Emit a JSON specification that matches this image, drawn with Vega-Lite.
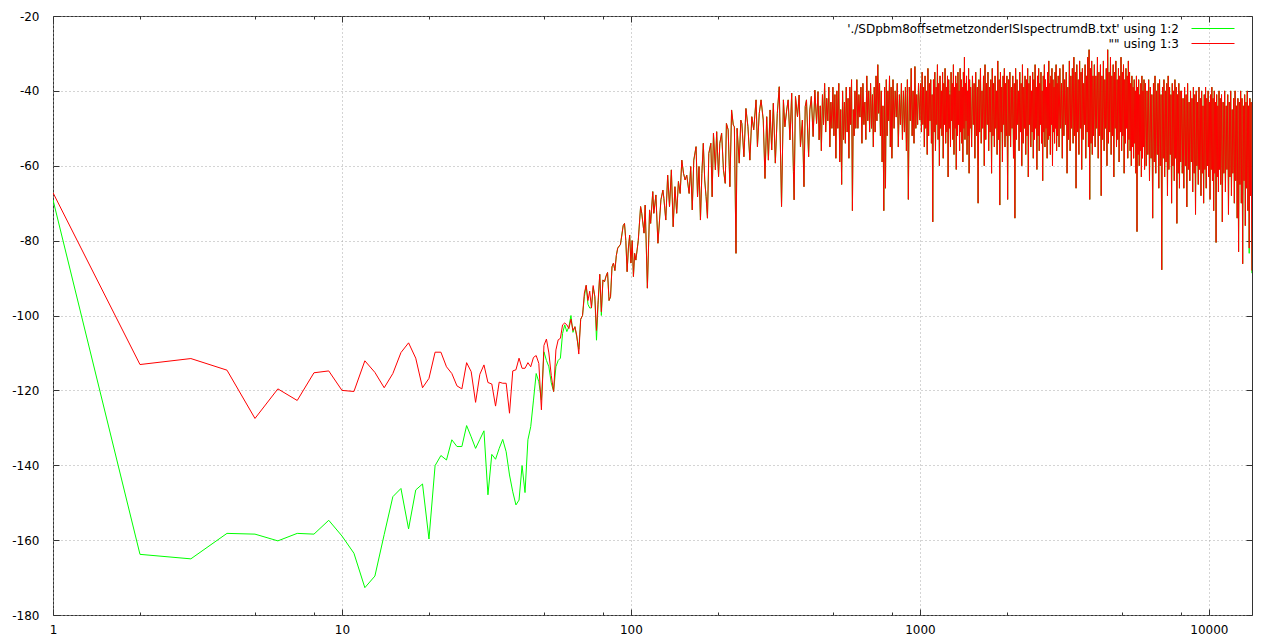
{
"$schema": "https://vega.github.io/schema/vega-lite/v6.json",
"width": 1199, "height": 599,
"autosize": {"type": "none"},
"padding": {"left": 53, "top": 16, "right": 24, "bottom": 26},
"background": "white",
"config": {
  "view": {"stroke": "#333333", "strokeWidth": 1},
  "font": "DejaVu Sans",
  "axis": {"labelFont": "DejaVu Sans", "labelFontSize": 12, "labelColor": "#000000", "tickColor": "#333333", "tickWidth": 1, "domain": false, "title": null, "gridColor": "#a8a8a8", "gridDash": [1, 3], "gridWidth": 1, "labelOverlap": false, "labelFlush": false}
},
"data": {"values": [
{"x":1,"g":-69.1,"r":-67.2},{"x":2,"g":-163.8,"r":-113.1},{"x":3,"g":-165,"r":-111.5},{"x":4,"g":-158.2,"r":-114.6},{"x":5,"g":-158.4,"r":-127.5},
{"x":6,"g":-160.2,"r":-119.6},{"x":7,"g":-158.2,"r":-122.7},{"x":8,"g":-158.4,"r":-115.3},{"x":9,"g":-154.7,"r":-114.8},{"x":10,"g":-158.9,"r":-120},
{"x":11,"g":-163.5,"r":-120.3},{"x":12,"g":-172.7,"r":-112.1},{"x":13,"g":-169.6,"r":-115.2},{"x":14,"g":-158.5,"r":-119.3},{"x":15,"g":-148.4,"r":-115.5},
{"x":16,"g":-146.2,"r":-109.9},{"x":17,"g":-157,"r":-107.3},{"x":18,"g":-146.6,"r":-111.4},{"x":19,"g":-145,"r":-119.3},{"x":20,"g":-159.7,"r":-116.8},
{"x":21,"g":-140.1,"r":-109.8},{"x":22,"g":-137.4,"r":-109.8},{"x":23,"g":-138.6,"r":-113.7},{"x":24,"g":-133.2,"r":-115.5},{"x":25,"g":-135,"r":-118.8},
{"x":26,"g":-135,"r":-119.6},{"x":27,"g":-129.4,"r":-112.6},{"x":28,"g":-132.4,"r":-115},{"x":29,"g":-135.5,"r":-123.2},{"x":30,"g":-133.1,"r":-115.7},
{"x":31,"g":-130.8,"r":-113.2},{"x":32,"g":-147.9,"r":-117.9},{"x":33,"g":-137.1,"r":-118.3},{"x":34,"g":-138.4,"r":-124.2},{"x":35,"g":-135.5,"r":-117.8},
{"x":36,"g":-133.1,"r":-118.1},{"x":37,"g":-136.4,"r":-118.1},{"x":38,"g":-142.6,"r":-126.1},{"x":39,"g":-147.1,"r":-114.8},{"x":40,"g":-150.6,"r":-114.5},
{"x":41,"g":-149.3,"r":-111.4},{"x":42,"g":-140.1,"r":-114.1},{"x":43,"g":-147.3,"r":-114.1},{"x":44,"g":-133.2,"r":-112.6},{"x":45,"g":-129.7,"r":-113.7},
{"x":46,"g":-122.6,"r":-111.2},{"x":47,"g":-115.5,"r":-110.7},{"x":48,"g":-117.7,"r":-112.8},{"x":49,"g":-122.6,"r":-125.2},{"x":50,"g":-109.7,"r":-108},
{"x":51,"g":-112,"r":-106.3},{"x":52,"g":-113.7,"r":-110},{"x":53,"g":-118,"r":-116},{"x":54,"g":-120.3,"r":-120.3},{"x":55,"g":-113.7,"r":-109.2},
{"x":56,"g":-112,"r":-106.5},{"x":57,"g":-111.4,"r":-106.1},{"x":58,"g":-104.8,"r":-102.5},{"x":59,"g":-102.5,"r":-102},{"x":60,"g":-104.3,"r":-102.5},
{"x":61,"g":-103,"r":-103.5},{"x":62,"g":-100,"r":-101},{"x":63,"g":-104.5,"r":-104},{"x":64,"g":-103,"r":-103},{"x":65,"g":-106,"r":-105.5},
{"x":66,"g":-109,"r":-110.3},{"x":67,"g":-101,"r":-101},{"x":68,"g":-100,"r":-100},{"x":69,"g":-95,"r":-94},{"x":70,"g":-92,"r":-91.9},
{"x":71,"g":-97,"r":-96},{"x":72,"g":-98,"r":-93.5},{"x":73,"g":-98,"r":-98},{"x":74,"g":-92.5,"r":-92},{"x":75,"g":-95,"r":-95},
{"x":76,"g":-106.6,"r":-104},{"x":77,"g":-97,"r":-96},{"x":78,"g":-89,"r":-89},{"x":79,"g":-100,"r":-99},{"x":80,"g":-90.5,"r":-90.5},
{"x":81,"g":-91,"r":-91},{"x":82,"g":-89.5,"r":-89.5},{"x":83,"g":-88.5,"r":-88.5},{"x":84,"g":-96,"r":-96},{"x":85,"g":-95,"r":-95},
{"x":86,"g":-87,"r":-87},{"x":87,"g":-86,"r":-86},{"x":88,"g":-88,"r":-88},{"x":89,"g":-84,"r":-84},{"x":90,"g":-82,"r":-82},
{"x":92,"g":-81,"r":-81},{"x":94,"g":-76,"r":-76},{"x":95,"g":-75.4,"r":-75.4},{"x":96,"g":-80,"r":-80},{"x":97,"g":-88.3,"r":-88.3},
{"x":98,"g":-82,"r":-82},{"x":99,"g":-78.5,"r":-78.5},{"x":100,"g":-86,"r":-86},{"x":101,"g":-80,"r":-80},{"x":102,"g":-89.6,"r":-89.6},
{"x":103,"g":-83.4,"r":-83.4},{"x":104,"g":-85.2,"r":-85.2},{"x":106,"g":-80,"r":-80},{"x":108,"g":-70.9,"r":-70.9},{"x":109,"g":-72.7,"r":-72.7},
{"x":111,"g":-78,"r":-78},{"x":112,"g":-70.5,"r":-70.5},{"x":114,"g":-92.7,"r":-92.7},{"x":116,"g":-71.8,"r":-71.8},{"x":117,"g":-75.4,"r":-75.4},
{"x":119,"g":-66.9,"r":-66.9},{"x":120,"g":-72.7,"r":-72.7},{"x":122,"g":-67.8,"r":-67.8},{"x":124,"g":-80.7,"r":-80.7},{"x":127,"g":-69.1,"r":-69.1},
{"x":129,"g":-66.5,"r":-66.5},{"x":130,"g":-68.7,"r":-68.7},{"x":132,"g":-74.5,"r":-74.5},{"x":134,"g":-62.5,"r":-62.5},{"x":136,"g":-70.9,"r":-70.9},
{"x":138,"g":-61.1,"r":-61.1},{"x":140,"g":-76.3,"r":-76.3},{"x":142,"g":-65.6,"r":-65.6},{"x":144,"g":-72.7,"r":-72.7},{"x":146,"g":-64.2,"r":-64.2},
{"x":148,"g":-67.4,"r":-67.4},{"x":150,"g":-58.5,"r":-58.5},{"x":152,"g":-62,"r":-62},{"x":154,"g":-63.8,"r":-63.8},{"x":156,"g":-62.5,"r":-62.5},
{"x":159,"g":-67.4,"r":-67.4},{"x":161,"g":-60.2,"r":-60.2},{"x":163,"g":-71.8,"r":-71.8},{"x":165,"g":-58.5,"r":-58.5},{"x":168,"g":-54.9,"r":-54.9},
{"x":170,"g":-68.3,"r":-68.3},{"x":172,"g":-60.2,"r":-60.2},{"x":174,"g":-74.5,"r":-74.5},{"x":176,"g":-62,"r":-62},{"x":178,"g":-54,"r":-54},
{"x":180,"g":-63.8,"r":-63.8},{"x":182,"g":-68.3,"r":-68.3},{"x":184,"g":-74,"r":-74},{"x":186,"g":-56.7,"r":-56.7},{"x":189,"g":-54,"r":-54},
{"x":191,"g":-68.3,"r":-68.3},{"x":193,"g":-51.3,"r":-51.3},{"x":196,"g":-61.1,"r":-61.1},{"x":198,"g":-50.9,"r":-50.9},{"x":201,"g":-62.9,"r":-62.9},
{"x":203,"g":-54,"r":-54},{"x":206,"g":-51.3,"r":-51.3},{"x":209,"g":-61.1,"r":-61.1},{"x":212,"g":-64.7,"r":-64.7},{"x":214,"g":-48.7,"r":-48.7},
{"x":217,"g":-50.4,"r":-50.4},{"x":220,"g":-65.6,"r":-65.6},{"x":223,"g":-45.1,"r":-45.1},{"x":226,"g":-49.1,"r":-49.1},{"x":228,"g":-49.6,"r":-49.6},
{"x":231,"g":-83.4,"r":-83.4},{"x":233,"g":-50,"r":-50},{"x":237,"g":-59.3,"r":-59.3},{"x":240,"g":-47.8,"r":-47.8},{"x":242,"g":-48.7,"r":-48.7},
{"x":246,"g":-57.6,"r":-57.6},{"x":250,"g":-44.7,"r":-44.7},{"x":254,"g":-49.6,"r":-49.6},{"x":258,"g":-58.5,"r":-58.5},{"x":262,"g":-46.9,"r":-46.9},
{"x":266,"g":-50.4,"r":-50.4},{"x":271,"g":-42.4,"r":-42.4},{"x":274,"g":-54.9,"r":-54.9},{"x":278,"g":-46,"r":-46},{"x":282,"g":-42.4,"r":-42.4},
{"x":287,"g":-47.8,"r":-47.8},{"x":291,"g":-63.4,"r":-63.4},{"x":295,"g":-46.9,"r":-46.9},{"x":299,"g":-58.5,"r":-58.5},{"x":303,"g":-45.1,"r":-45.1},
{"x":307,"g":-55.8,"r":-55.8},{"x":311,"g":-43.3,"r":-43.3},{"x":316,"g":-59.3,"r":-59.3},{"x":321,"g":-46,"r":-46},{"x":326,"g":-38.9,"r":-38.9},
{"x":332,"g":-70.9,"r":-70.9},{"x":337,"g":-42.4,"r":-42.4},{"x":341,"g":-49.6,"r":-49.6},{"x":346,"g":-45.1,"r":-45.1},{"x":350,"g":-42.4,"r":-42.4},
{"x":355,"g":-53.1,"r":-53.1},{"x":360,"g":-40.6,"r":-40.6},{"x":365,"g":-61.6,"r":-61.6},{"x":367,"g":-69.1,"r":-69.1},{"x":371,"g":-41.5,"r":-41.5},
{"x":377,"g":-46.9,"r":-46.9},{"x":382,"g":-41.1,"r":-41.1},{"x":386,"g":-54.9,"r":-54.9},{"x":392,"g":-47.8,"r":-47.8},{"x":397,"g":-65.6,"r":-65.6},
{"x":401,"g":-44.2,"r":-44.2},{"x":405,"g":-42.4,"r":-42.4},{"x":412,"g":-57.6,"r":-57.6},{"x":416,"g":-45.1,"r":-45.1},{"x":421,"g":-41.5,"r":-41.5},
{"x":427,"g":-52.2,"r":-52.2},{"x":433,"g":-39.8,"r":-39.8},{"x":439,"g":-48.7,"r":-48.7},{"x":444,"g":-40.2,"r":-40.2},{"x":448,"g":-53.1,"r":-53.1},
{"x":452,"g":-44,"r":-44},{"x":456,"g":-56,"r":-56},{"x":460,"g":-41,"r":-41},{"x":464,"g":-49,"r":-49},{"x":468,"g":-38,"r":-38},
{"x":472,"g":-51,"r":-51},{"x":476,"g":-42,"r":-42},{"x":480,"g":-48,"r":-48},{"x":484,"g":-39,"r":-39},{"x":488,"g":-55,"r":-55},
{"x":492,"g":-43,"r":-43},{"x":496,"g":-50,"r":-50},{"x":500,"g":-39,"r":-39},{"x":504,"g":-52,"r":-52},{"x":508,"g":-41,"r":-41},
{"x":512,"g":-58,"r":-58},{"x":516,"g":-40,"r":-40},{"x":520,"g":-50,"r":-50},{"x":524,"g":-38,"r":-38},{"x":528,"g":-59,"r":-59},
{"x":532,"g":-45,"r":-45},{"x":536,"g":-65,"r":-65},{"x":540,"g":-40,"r":-40},{"x":544,"g":-53,"r":-53},{"x":548,"g":-43,"r":-43},
{"x":552,"g":-54,"r":-54},{"x":556,"g":-39,"r":-39},{"x":560,"g":-51,"r":-51},{"x":564,"g":-42,"r":-42},{"x":568,"g":-58,"r":-58},
{"x":572,"g":-39,"r":-39},{"x":576,"g":-49,"r":-49},{"x":580,"g":-37,"r":-37},{"x":584,"g":-72,"r":-72},{"x":588,"g":-45,"r":-45},
{"x":592,"g":-52,"r":-52},{"x":596,"g":-40,"r":-40},{"x":600,"g":-50,"r":-50},
{"x":605,"g":-37,"r":-37},{"x":610,"g":-50,"r":-50},{"x":615,"g":-41,"r":-41},{"x":620,"g":-47,"r":-47},{"x":625,"g":-39,"r":-39},
{"x":630,"g":-54,"r":-54},{"x":635,"g":-38,"r":-38},{"x":640,"g":-49,"r":-49},{"x":645,"g":-43,"r":-43},{"x":650,"g":-53,"r":-53},
{"x":655,"g":-36,"r":-36},{"x":660,"g":-48,"r":-48},{"x":665,"g":-40,"r":-40},{"x":670,"g":-51,"r":-51},{"x":675,"g":-38,"r":-38},
{"x":680,"g":-50,"r":-50},{"x":685,"g":-41,"r":-41},{"x":690,"g":-55,"r":-55},{"x":695,"g":-39,"r":-39},{"x":700,"g":-51,"r":-51},
{"x":705,"g":-36,"r":-36},{"x":710,"g":-48,"r":-48},{"x":715,"g":-33,"r":-33},{"x":720,"g":-46,"r":-46},{"x":725,"g":-38,"r":-38},
{"x":730,"g":-52,"r":-52},{"x":735,"g":-40,"r":-40},{"x":740,"g":-59,"r":-59},{"x":745,"g":-44,"r":-44},{"x":750,"g":-72,"r":-72},
{"x":755,"g":-39,"r":-39},{"x":760,"g":-66,"r":-66},{"x":765,"g":-37,"r":-37},{"x":770,"g":-52,"r":-52},{"x":775,"g":-40,"r":-40},
{"x":780,"g":-48,"r":-48},{"x":785,"g":-36,"r":-36},{"x":790,"g":-55,"r":-55},{"x":795,"g":-39,"r":-39},{"x":800,"g":-58,"r":-58},
{"x":807,"g":-37,"r":-37},{"x":814,"g":-50,"r":-50},{"x":821,"g":-40,"r":-40},{"x":828,"g":-47,"r":-47},{"x":835,"g":-38,"r":-38},
{"x":842,"g":-55,"r":-55},{"x":849,"g":-41,"r":-41},{"x":856,"g":-49,"r":-49},{"x":863,"g":-38,"r":-38},{"x":870,"g":-53,"r":-53},
{"x":877,"g":-40,"r":-40},{"x":884,"g":-51,"r":-51},{"x":891,"g":-39,"r":-39},{"x":898,"g":-56,"r":-56},{"x":905,"g":-37,"r":-37},
{"x":912,"g":-69,"r":-69},{"x":919,"g":-39,"r":-39},{"x":926,"g":-48,"r":-48},{"x":933,"g":-34,"r":-34},{"x":940,"g":-52,"r":-52},
{"x":947,"g":-40,"r":-40},{"x":954,"g":-54,"r":-54},{"x":961,"g":-33.5,"r":-33.5},{"x":968,"g":-50,"r":-50},{"x":975,"g":-41,"r":-41},
{"x":982,"g":-49,"r":-49},{"x":989,"g":-38,"r":-38},{"x":1000,"g":-47.8,"r":-47.8},
{"x":1006,"g":-38,"r":-38},{"x":1012,"g":-51,"r":-51},{"x":1018,"g":-35,"r":-35},{"x":1024,"g":-49,"r":-49},{"x":1030,"g":-39,"r":-39},
{"x":1036,"g":-55,"r":-55},{"x":1042,"g":-36,"r":-36},{"x":1048,"g":-50,"r":-50},{"x":1054,"g":-40,"r":-40},{"x":1060,"g":-57,"r":-57},
{"x":1066,"g":-34,"r":-34},{"x":1072,"g":-52,"r":-52},{"x":1078,"g":-38,"r":-38},{"x":1084,"g":-48,"r":-48},{"x":1090,"g":-37,"r":-37},
{"x":1096,"g":-54,"r":-54},{"x":1102,"g":-41,"r":-41},{"x":1108,"g":-75,"r":-75},{"x":1114,"g":-37,"r":-37},{"x":1120,"g":-51,"r":-51},
{"x":1126,"g":-35,"r":-35},{"x":1132,"g":-56,"r":-56},{"x":1138,"g":-39,"r":-39},{"x":1144,"g":-49,"r":-49},{"x":1150,"g":-33,"r":-33},
{"x":1156,"g":-53,"r":-53},{"x":1162,"g":-38,"r":-38},{"x":1168,"g":-60,"r":-60},{"x":1174,"g":-36,"r":-36},{"x":1180,"g":-50,"r":-50},
{"x":1186,"g":-40,"r":-40},{"x":1192,"g":-52,"r":-52},{"x":1198,"g":-35,"r":-35},{"x":1204,"g":-58,"r":-58},{"x":1210,"g":-38,"r":-38},
{"x":1216,"g":-49,"r":-49},{"x":1222,"g":-34,"r":-34},{"x":1228,"g":-54,"r":-54},{"x":1234,"g":-39,"r":-39},{"x":1240,"g":-51,"r":-51},
{"x":1246,"g":-36,"r":-36},{"x":1252,"g":-63,"r":-63},{"x":1258,"g":-37,"r":-37},{"x":1264,"g":-50,"r":-50},{"x":1270,"g":-41,"r":-41},
{"x":1276,"g":-55,"r":-55},{"x":1282,"g":-35,"r":-35},{"x":1288,"g":-48,"r":-48},{"x":1294,"g":-38,"r":-38},{"x":1300,"g":-53,"r":-53},
{"x":1306,"g":-33,"r":-33},{"x":1312,"g":-57,"r":-57},{"x":1318,"g":-39,"r":-39},{"x":1324,"g":-50,"r":-50},{"x":1330,"g":-36,"r":-36},
{"x":1336,"g":-61,"r":-61},{"x":1342,"g":-38,"r":-38},{"x":1348,"g":-52,"r":-52},{"x":1354,"g":-35,"r":-35},{"x":1360,"g":-49,"r":-49},
{"x":1366,"g":-40,"r":-40},{"x":1372,"g":-56,"r":-56},{"x":1378,"g":-34,"r":-34},{"x":1384,"g":-51,"r":-51},{"x":1390,"g":-37,"r":-37},
{"x":1396,"g":-54,"r":-54},{"x":1402,"g":-39,"r":-39},{"x":1408,"g":-59,"r":-59},{"x":1414,"g":-35,"r":-35},{"x":1420,"g":-50,"r":-50},
{"x":1426,"g":-31,"r":-31},{"x":1432,"g":-53,"r":-53},{"x":1438,"g":-38,"r":-38},{"x":1444,"g":-48,"r":-48},{"x":1450,"g":-36,"r":-36},
{"x":1456,"g":-57,"r":-57},{"x":1462,"g":-40,"r":-40},{"x":1468,"g":-52,"r":-52},{"x":1474,"g":-34,"r":-34},{"x":1480,"g":-62,"r":-62},
{"x":1486,"g":-37,"r":-37},{"x":1492,"g":-50,"r":-50},{"x":1498,"g":-39,"r":-39},
{"x":1510,"g":-55,"r":-55},{"x":1520,"g":-36,"r":-36},{"x":1530,"g":-49,"r":-49},{"x":1540,"g":-38,"r":-38},{"x":1550,"g":-58,"r":-58},
{"x":1560,"g":-35,"r":-35},{"x":1570,"g":-52,"r":-52},{"x":1580,"g":-39,"r":-39},{"x":1590,"g":-70,"r":-70},{"x":1600,"g":-37,"r":-37},
{"x":1610,"g":-51,"r":-51},{"x":1620,"g":-34,"r":-34},{"x":1630,"g":-54,"r":-54},{"x":1640,"g":-40,"r":-40},{"x":1650,"g":-50,"r":-50},
{"x":1660,"g":-36,"r":-36},{"x":1670,"g":-60,"r":-60},{"x":1680,"g":-33,"r":-33},{"x":1690,"g":-53,"r":-53},{"x":1700,"g":-38,"r":-38},
{"x":1710,"g":-49,"r":-49},{"x":1720,"g":-35,"r":-35},{"x":1730,"g":-56,"r":-56},{"x":1740,"g":-39,"r":-39},{"x":1750,"g":-51,"r":-51},
{"x":1760,"g":-37,"r":-37},{"x":1770,"g":-62,"r":-62},{"x":1780,"g":-34,"r":-34},{"x":1790,"g":-52,"r":-52},{"x":1800,"g":-38,"r":-38},
{"x":1810,"g":-55,"r":-55},{"x":1820,"g":-36,"r":-36},{"x":1830,"g":-50,"r":-50},{"x":1840,"g":-40,"r":-40},{"x":1850,"g":-57,"r":-57},
{"x":1860,"g":-32,"r":-32},{"x":1870,"g":-53,"r":-53},{"x":1880,"g":-37,"r":-37},{"x":1890,"g":-70.5,"r":-70.5},{"x":1900,"g":-35,"r":-35},
{"x":1910,"g":-51,"r":-51},{"x":1920,"g":-39,"r":-39},{"x":1930,"g":-59,"r":-59},{"x":1940,"g":-36,"r":-36},{"x":1950,"g":-49,"r":-49},
{"x":1960,"g":-34,"r":-34},{"x":1970,"g":-55,"r":-55},{"x":1980,"g":-38,"r":-38},{"x":1990,"g":-52,"r":-52},{"x":2000,"g":-36,"r":-36},
{"x":2012,"g":-69,"r":-69},{"x":2024,"g":-37,"r":-37},{"x":2036,"g":-52,"r":-52},{"x":2048,"g":-35,"r":-35},{"x":2060,"g":-55,"r":-55},
{"x":2072,"g":-39,"r":-39},{"x":2084,"g":-50,"r":-50},{"x":2096,"g":-36,"r":-36},{"x":2108,"g":-58,"r":-58},{"x":2120,"g":-38,"r":-38},
{"x":2132,"g":-74,"r":-74},{"x":2144,"g":-34,"r":-34},{"x":2156,"g":-53,"r":-53},{"x":2168,"g":-37,"r":-37},{"x":2180,"g":-49,"r":-49},
{"x":2192,"g":-40,"r":-40},{"x":2204,"g":-56,"r":-56},{"x":2216,"g":-35,"r":-35},{"x":2228,"g":-51,"r":-51},{"x":2240,"g":-38,"r":-38},
{"x":2252,"g":-60,"r":-60},{"x":2264,"g":-33,"r":-33},{"x":2276,"g":-54,"r":-54},{"x":2288,"g":-39,"r":-39},{"x":2300,"g":-50,"r":-50},
{"x":2312,"g":-36,"r":-36},{"x":2324,"g":-57,"r":-57},{"x":2336,"g":-37,"r":-37},{"x":2348,"g":-52,"r":-52},{"x":2360,"g":-34,"r":-34},
{"x":2372,"g":-63,"r":-63},{"x":2384,"g":-38,"r":-38},{"x":2396,"g":-49,"r":-49},{"x":2408,"g":-36,"r":-36},{"x":2420,"g":-55,"r":-55},
{"x":2432,"g":-40,"r":-40},{"x":2444,"g":-51,"r":-51},{"x":2456,"g":-35,"r":-35},{"x":2468,"g":-58,"r":-58},{"x":2480,"g":-37,"r":-37},
{"x":2492,"g":-53,"r":-53},{"x":2504,"g":-33,"r":-33},{"x":2516,"g":-50,"r":-50},{"x":2528,"g":-39,"r":-39},{"x":2540,"g":-61,"r":-61},
{"x":2552,"g":-36,"r":-36},{"x":2564,"g":-52,"r":-52},{"x":2576,"g":-34,"r":-34},{"x":2588,"g":-56,"r":-56},{"x":2600,"g":-38,"r":-38},
{"x":2612,"g":-49,"r":-49},{"x":2624,"g":-35,"r":-35},{"x":2636,"g":-54,"r":-54},{"x":2648,"g":-40,"r":-40},{"x":2660,"g":-64,"r":-64},
{"x":2672,"g":-36,"r":-36},{"x":2684,"g":-51,"r":-51},{"x":2696,"g":-33,"r":-33},{"x":2708,"g":-55,"r":-55},{"x":2720,"g":-37,"r":-37},
{"x":2732,"g":-50,"r":-50},{"x":2744,"g":-39,"r":-39},{"x":2756,"g":-58,"r":-58},{"x":2768,"g":-35,"r":-35},{"x":2780,"g":-53,"r":-53},
{"x":2792,"g":-32,"r":-32},{"x":2804,"g":-52,"r":-52},{"x":2816,"g":-38,"r":-38},{"x":2828,"g":-57,"r":-57},{"x":2840,"g":-36,"r":-36},
{"x":2852,"g":-49,"r":-49},{"x":2864,"g":-34,"r":-34},{"x":2876,"g":-60,"r":-60},{"x":2888,"g":-37,"r":-37},{"x":2900,"g":-51,"r":-51},
{"x":2912,"g":-39,"r":-39},{"x":2924,"g":-54,"r":-54},{"x":2936,"g":-35,"r":-35},{"x":2948,"g":-50,"r":-50},{"x":2960,"g":-33,"r":-33},
{"x":2972,"g":-56,"r":-56},{"x":2984,"g":-38,"r":-38},{"x":2996,"g":-52,"r":-52},
{"x":3010,"g":-36,"r":-36},{"x":3030,"g":-55,"r":-55},{"x":3050,"g":-34,"r":-34},{"x":3070,"g":-50,"r":-50},{"x":3090,"g":-38,"r":-38},
{"x":3110,"g":-58,"r":-58},{"x":3130,"g":-33,"r":-33},{"x":3150,"g":-52,"r":-52},{"x":3170,"g":-37,"r":-37},{"x":3190,"g":-49,"r":-49},
{"x":3210,"g":-35,"r":-35},{"x":3230,"g":-62,"r":-62},{"x":3250,"g":-39,"r":-39},{"x":3270,"g":-53,"r":-53},{"x":3290,"g":-32,"r":-32},
{"x":3310,"g":-56,"r":-56},{"x":3330,"g":-36,"r":-36},{"x":3350,"g":-50,"r":-50},{"x":3370,"g":-34,"r":-34},{"x":3390,"g":-54,"r":-54},
{"x":3410,"g":-31,"r":-31},{"x":3430,"g":-52,"r":-52},{"x":3450,"g":-35,"r":-35},{"x":3470,"g":-66,"r":-66},{"x":3490,"g":-33,"r":-33},
{"x":3510,"g":-51,"r":-51},{"x":3530,"g":-37,"r":-37},{"x":3550,"g":-57,"r":-57},{"x":3570,"g":-32,"r":-32},{"x":3590,"g":-50,"r":-50},
{"x":3610,"g":-35,"r":-35},{"x":3630,"g":-61,"r":-61},{"x":3650,"g":-34,"r":-34},{"x":3670,"g":-53,"r":-53},{"x":3690,"g":-38,"r":-38},
{"x":3710,"g":-49,"r":-49},{"x":3730,"g":-33,"r":-33},{"x":3750,"g":-58,"r":-58},{"x":3770,"g":-36,"r":-36},{"x":3790,"g":-51,"r":-51},
{"x":3810,"g":-31,"r":-31},{"x":3830,"g":-55,"r":-55},{"x":3850,"g":-29,"r":-29},{"x":3870,"g":-69,"r":-69},{"x":3890,"g":-34,"r":-34},
{"x":3910,"g":-54,"r":-54},{"x":3930,"g":-32,"r":-32},{"x":3950,"g":-57,"r":-57},{"x":3970,"g":-36,"r":-36},{"x":3990,"g":-52,"r":-52},
{"x":4015,"g":-33,"r":-33},{"x":4040,"g":-55,"r":-55},{"x":4065,"g":-36,"r":-36},{"x":4090,"g":-50,"r":-50},{"x":4115,"g":-31,"r":-31},
{"x":4140,"g":-58,"r":-58},{"x":4165,"g":-35,"r":-35},{"x":4190,"g":-52,"r":-52},{"x":4215,"g":-33,"r":-33},{"x":4240,"g":-68,"r":-68},
{"x":4265,"g":-36,"r":-36},{"x":4290,"g":-53,"r":-53},{"x":4315,"g":-32,"r":-32},{"x":4340,"g":-56,"r":-56},{"x":4365,"g":-37,"r":-37},
{"x":4390,"g":-50,"r":-50},{"x":4415,"g":-34,"r":-34},{"x":4440,"g":-60,"r":-60},{"x":4465,"g":-29,"r":-29},{"x":4490,"g":-54,"r":-54},
{"x":4515,"g":-35,"r":-35},{"x":4540,"g":-51,"r":-51},{"x":4565,"g":-31,"r":-31},{"x":4590,"g":-57,"r":-57},{"x":4615,"g":-36,"r":-36},
{"x":4640,"g":-52,"r":-52},{"x":4665,"g":-33,"r":-33},{"x":4690,"g":-63,"r":-63},{"x":4715,"g":-35,"r":-35},{"x":4740,"g":-50,"r":-50},
{"x":4765,"g":-32,"r":-32},{"x":4790,"g":-55,"r":-55},{"x":4815,"g":-37,"r":-37},{"x":4840,"g":-53,"r":-53},{"x":4865,"g":-34,"r":-34},
{"x":4890,"g":-59,"r":-59},{"x":4915,"g":-36,"r":-36},{"x":4940,"g":-51,"r":-51},{"x":4965,"g":-31,"r":-31},{"x":4990,"g":-56,"r":-56},
{"x":5015,"g":-35,"r":-35},{"x":5040,"g":-52,"r":-52},{"x":5065,"g":-33,"r":-33},{"x":5090,"g":-62,"r":-62},{"x":5115,"g":-37,"r":-37},
{"x":5140,"g":-54,"r":-54},{"x":5165,"g":-34,"r":-34},{"x":5190,"g":-50,"r":-50},{"x":5215,"g":-36,"r":-36},{"x":5240,"g":-58,"r":-58},
{"x":5265,"g":-32,"r":-32},{"x":5290,"g":-53,"r":-53},{"x":5315,"g":-35,"r":-35},{"x":5340,"g":-56,"r":-56},{"x":5365,"g":-38,"r":-38},
{"x":5390,"g":-60,"r":-60},{"x":5415,"g":-36,"r":-36},{"x":5440,"g":-55,"r":-55},{"x":5465,"g":-39,"r":-39},{"x":5490,"g":-58,"r":-58},
{"x":5515,"g":-37,"r":-37},{"x":5540,"g":-54,"r":-54},{"x":5565,"g":-40,"r":-40},{"x":5590,"g":-62,"r":-62},{"x":5615,"g":-36,"r":-36},
{"x":5640,"g":-77.6,"r":-77.6},{"x":5665,"g":-39,"r":-39},{"x":5690,"g":-57,"r":-57},{"x":5715,"g":-37,"r":-37},{"x":5740,"g":-60,"r":-60},
{"x":5765,"g":-41,"r":-41},{"x":5790,"g":-56,"r":-56},{"x":5815,"g":-38,"r":-38},{"x":5840,"g":-63,"r":-63},{"x":5865,"g":-36,"r":-36},
{"x":5890,"g":-58,"r":-58},{"x":5915,"g":-40,"r":-40},{"x":5940,"g":-55,"r":-55},{"x":5965,"g":-37,"r":-37},{"x":5990,"g":-61,"r":-61},
{"x":6030,"g":-38,"r":-38},{"x":6070,"g":-60,"r":-60},{"x":6110,"g":-40,"r":-40},{"x":6150,"g":-57,"r":-57},{"x":6190,"g":-37,"r":-37},
{"x":6230,"g":-64,"r":-64},{"x":6270,"g":-39,"r":-39},{"x":6310,"g":-58,"r":-58},{"x":6350,"g":-41,"r":-41},{"x":6390,"g":-74,"r":-74},
{"x":6430,"g":-38,"r":-38},{"x":6470,"g":-59,"r":-59},{"x":6510,"g":-36,"r":-36},{"x":6550,"g":-62,"r":-62},{"x":6590,"g":-40,"r":-40},
{"x":6630,"g":-57,"r":-57},{"x":6670,"g":-38,"r":-38},{"x":6710,"g":-66,"r":-66},{"x":6750,"g":-37,"r":-37},{"x":6790,"g":-60,"r":-60},
{"x":6830,"g":-41,"r":-41},{"x":6870,"g":-87.8,"r":-87.8},{"x":6910,"g":-39,"r":-39},{"x":6950,"g":-58,"r":-58},{"x":6990,"g":-37,"r":-37},
{"x":7030,"g":-63,"r":-63},{"x":7070,"g":-40,"r":-40},{"x":7110,"g":-59,"r":-59},{"x":7150,"g":-38,"r":-38},{"x":7190,"g":-68,"r":-68},
{"x":7230,"g":-36,"r":-36},{"x":7270,"g":-61,"r":-61},{"x":7310,"g":-39,"r":-39},{"x":7350,"g":-57,"r":-57},{"x":7390,"g":-41,"r":-41},
{"x":7430,"g":-70,"r":-70},{"x":7470,"g":-38,"r":-38},{"x":7510,"g":-60,"r":-60},{"x":7550,"g":-40,"r":-40},{"x":7590,"g":-64,"r":-64},
{"x":7630,"g":-37,"r":-37},{"x":7670,"g":-58,"r":-58},{"x":7710,"g":-39,"r":-39},{"x":7750,"g":-75.4,"r":-75.4},{"x":7790,"g":-41,"r":-41},
{"x":7830,"g":-62,"r":-62},{"x":7870,"g":-38,"r":-38},{"x":7910,"g":-66,"r":-66},{"x":7950,"g":-40,"r":-40},{"x":7990,"g":-59,"r":-59},
{"x":8040,"g":-40,"r":-40},{"x":8090,"g":-62,"r":-62},{"x":8140,"g":-42,"r":-42},{"x":8190,"g":-66,"r":-66},{"x":8240,"g":-39,"r":-39},
{"x":8290,"g":-60,"r":-60},{"x":8340,"g":-41,"r":-41},{"x":8390,"g":-71,"r":-71},{"x":8440,"g":-38,"r":-38},{"x":8490,"g":-61,"r":-61},
{"x":8540,"g":-43,"r":-43},{"x":8590,"g":-64,"r":-64},{"x":8640,"g":-40,"r":-40},{"x":8690,"g":-59,"r":-59},{"x":8740,"g":-42,"r":-42},
{"x":8790,"g":-67,"r":-67},{"x":8840,"g":-39,"r":-39},{"x":8890,"g":-62,"r":-62},{"x":8940,"g":-41,"r":-41},{"x":8990,"g":-73,"r":-73},
{"x":9040,"g":-40,"r":-40},{"x":9090,"g":-60,"r":-60},{"x":9140,"g":-43,"r":-43},{"x":9190,"g":-65,"r":-65},{"x":9240,"g":-39,"r":-39},
{"x":9290,"g":-61,"r":-61},{"x":9340,"g":-42,"r":-42},{"x":9390,"g":-68,"r":-68},{"x":9440,"g":-40,"r":-40},{"x":9490,"g":-62,"r":-62},
{"x":9540,"g":-44,"r":-44},{"x":9590,"g":-70,"r":-70},{"x":9640,"g":-41,"r":-41},{"x":9690,"g":-61,"r":-61},{"x":9740,"g":-39,"r":-39},
{"x":9790,"g":-66,"r":-66},{"x":9840,"g":-42,"r":-42},{"x":9890,"g":-60,"r":-60},{"x":9940,"g":-40,"r":-40},{"x":9990,"g":-63,"r":-63},
{"x":10040,"g":-43,"r":-43},{"x":10090,"g":-69,"r":-69},{"x":10140,"g":-41,"r":-41},{"x":10190,"g":-61,"r":-61},{"x":10240,"g":-39,"r":-39},
{"x":10290,"g":-64,"r":-64},{"x":10340,"g":-42,"r":-42},{"x":10390,"g":-72,"r":-72},{"x":10440,"g":-40,"r":-40},{"x":10490,"g":-62,"r":-62},
{"x":10540,"g":-43,"r":-43},{"x":10590,"g":-80.5,"r":-80.5},{"x":10640,"g":-41,"r":-41},{"x":10690,"g":-63,"r":-63},{"x":10740,"g":-44,"r":-44},
{"x":10790,"g":-67,"r":-67},{"x":10840,"g":-40,"r":-40},{"x":10890,"g":-61,"r":-61},{"x":10940,"g":-42,"r":-42},{"x":10990,"g":-65,"r":-65},
{"x":11060,"g":-41,"r":-41},{"x":11130,"g":-75,"r":-75},{"x":11200,"g":-43,"r":-43},{"x":11270,"g":-62,"r":-62},{"x":11340,"g":-40,"r":-40},
{"x":11410,"g":-67,"r":-67},{"x":11480,"g":-44,"r":-44},{"x":11550,"g":-61,"r":-61},{"x":11620,"g":-41,"r":-41},{"x":11690,"g":-73,"r":-73},
{"x":11760,"g":-43,"r":-43},{"x":11830,"g":-63,"r":-63},{"x":11900,"g":-40,"r":-40},{"x":11970,"g":-68,"r":-68},{"x":12040,"g":-45,"r":-45},
{"x":12110,"g":-62,"r":-62},{"x":12180,"g":-42,"r":-42},{"x":12250,"g":-70,"r":-70},{"x":12320,"g":-40,"r":-40},{"x":12390,"g":-64,"r":-64},
{"x":12460,"g":-44,"r":-44},{"x":12530,"g":-74,"r":-74},{"x":12600,"g":-42,"r":-42},{"x":12670,"g":-83,"r":-83},{"x":12740,"g":-43,"r":-43},
{"x":12810,"g":-65,"r":-65},{"x":12880,"g":-40,"r":-40},{"x":12950,"g":-70,"r":-70},{"x":13020,"g":-42,"r":-42},{"x":13090,"g":-86.2,"r":-86.2},
{"x":13160,"g":-44,"r":-44},{"x":13230,"g":-64,"r":-64},{"x":13300,"g":-41,"r":-41},{"x":13370,"g":-76,"r":-76},{"x":13440,"g":-43,"r":-43},
{"x":13510,"g":-66,"r":-66},{"x":13580,"g":-40,"r":-40},{"x":13650,"g":-72,"r":-72},{"x":13720,"g":-44,"r":-44},{"x":13790,"g":-83.4,"r":-82},
{"x":13860,"g":-42,"r":-42},{"x":13930,"g":-68,"r":-68},{"x":14000,"g":-43,"r":-43},{"x":14080,"g":-88.7,"r":-88}
]},
"layer": [
  {
    "mark": {"type": "line", "strokeWidth": 1, "clip": true},
    "encoding": {
      "x": {"field": "x", "type": "quantitative",
            "scale": {"type": "log", "domain": [1, 14100], "nice": false},
            "axis": {"orient": "bottom", "values": [1, 10, 100, 1000, 10000], "format": "d", "grid": true, "tickSize": -6, "labelPadding": 15}},
      "y": {"field": "g", "type": "quantitative",
            "scale": {"domain": [-180, -20], "nice": false, "zero": false},
            "axis": {"orient": "left", "values": [-180, -160, -140, -120, -100, -80, -60, -40, -20], "grid": true, "tickSize": -6, "labelPadding": 20, "labelExpr": "'' + datum.value"}},
      "color": {"datum": "'./SDpbm8offsetmetzonderISIspectrumdB.txt' using 1:2",
                "scale": {"domain": ["'./SDpbm8offsetmetzonderISIspectrumdB.txt' using 1:2", "\"\" using 1:3"], "range": ["#00ff00", "#ff0000"]},
                "legend": {"orient": "none", "legendX": 1142, "legendY": 6.5, "title": null, "symbolType": "M-4.3,0H4.3", "symbolSize": 100, "symbolStrokeWidth": 1, "rowPadding": 3, "symbolOffset": 12, "labelAlign": "right", "labelOffset": -40, "labelLimit": 600, "labelFont": "DejaVu Sans", "labelFontSize": 12, "labelColor": "#000000", "padding": 0}}
    }
  },
  {
    "mark": {"type": "line", "strokeWidth": 1, "clip": true},
    "encoding": {
      "x": {"field": "x", "type": "quantitative",
            "scale": {"type": "log", "domain": [1, 14100], "nice": false},
            "axis": {"orient": "top", "values": [1, 10, 100, 1000, 10000], "labels": false, "grid": false, "tickSize": -6}},
      "y": {"field": "r", "type": "quantitative",
            "scale": {"domain": [-180, -20], "nice": false, "zero": false},
            "axis": {"orient": "right", "values": [-180, -160, -140, -120, -100, -80, -60, -40, -20], "labels": false, "grid": false, "tickSize": -6}},
      "color": {"datum": "\"\" using 1:3"}
    }
  },
  {
    "mark": {"type": "point", "opacity": 0},
    "encoding": {
      "x": {"field": "x", "type": "quantitative",
            "scale": {"type": "log", "domain": [1, 14100], "nice": false},
            "axis": {"orient": "bottom", "values": [2, 5, 8, 20, 50, 80, 200, 500, 800, 2000, 5000, 8000], "labels": false, "grid": false, "tickSize": -3}},
      "y": {"field": "r", "type": "quantitative", "scale": {"domain": [-180, -20], "nice": false, "zero": false}, "axis": null}
    }
  },
  {
    "mark": {"type": "point", "opacity": 0},
    "encoding": {
      "x": {"field": "x", "type": "quantitative",
            "scale": {"type": "log", "domain": [1, 14100], "nice": false},
            "axis": {"orient": "top", "values": [2, 5, 8, 20, 50, 80, 200, 500, 800, 2000, 5000, 8000], "labels": false, "grid": false, "tickSize": -3}},
      "y": {"field": "r", "type": "quantitative", "scale": {"domain": [-180, -20], "nice": false, "zero": false}, "axis": null}
    }
  }
],
"resolve": {"axis": {"x": "independent", "y": "independent"}}
}
